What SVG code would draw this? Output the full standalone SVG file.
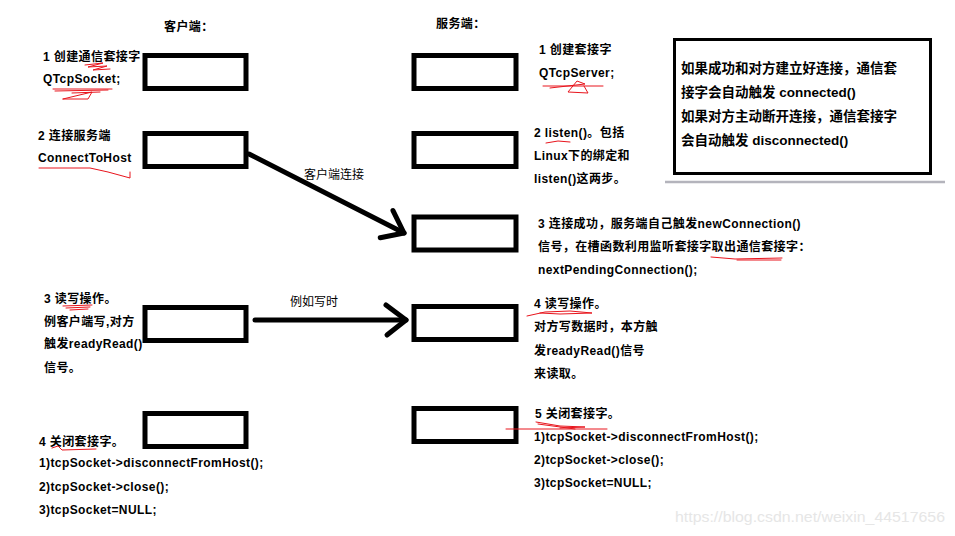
<svg xmlns="http://www.w3.org/2000/svg" width="955" height="536" viewBox="0 0 955 536">
<style>
.box{fill:#fff;stroke:#000;stroke-width:5}
.t{font-family:"Liberation Sans","Noto Sans CJK SC",sans-serif;font-size:12px;font-weight:bold;fill:#000;letter-spacing:0.4px}
.lbl{font-family:"Liberation Sans","Noto Sans CJK SC",sans-serif;font-size:12px;fill:#000}
.note{font-family:"Liberation Sans","Noto Sans CJK SC",sans-serif;font-size:13.5px;font-weight:bold;fill:#000}
.red{fill:none;stroke:#e8141c;stroke-width:1;stroke-linecap:round;stroke-linejoin:round}
.conn{fill:none;stroke:#000;stroke-width:5;stroke-linecap:round}
</style>
<defs>
<marker id="head" markerUnits="userSpaceOnUse" viewBox="-26 -20 30 40" refX="0" refY="0" markerWidth="30" markerHeight="40" orient="auto" overflow="visible">
<path d="M-20,-15 L0,0 L-19,15" fill="none" stroke="#000" stroke-width="5" stroke-linecap="round" stroke-linejoin="round"/>
</marker>
</defs>
<rect width="955" height="536" fill="#fff"/>

<text class="t" x="164" y="31" font-size="13">客户端：</text>
<text class="t" x="436" y="28" font-size="13">服务端：</text>

<g id="c1">
<rect class="box" x="145" y="55.5" width="101" height="33"/>
<text class="t" x="43" y="61">1 创建通信套接字</text>
<text class="t" x="43" y="83">QTcpSocket;</text>
<path class="red" d="M85,65 L103,63 L88,67 L107,66 L93,70 L110,69"/>
<path class="red" d="M53,89 L112,89 M55,91 L108,90 M63,99 L92,92 L88,99 L63,99 M72,93 L100,92"/>
</g>
<g id="c2">
<rect class="box" x="145" y="133.5" width="101" height="33"/>
<text class="t" x="38" y="140">2 连接服务端</text>
<text class="t" x="38" y="162">ConnectToHost</text>
<path class="red" d="M39,168 L90,168 L108,172 L130,178 L130,172"/>
</g>
<g id="c3">
<rect class="box" x="145" y="307.5" width="101" height="33"/>
<text class="t" x="44" y="303">3 读写操作。</text>
<text class="t" x="44" y="326">例客户端写,对方</text>
<text class="t" x="44" y="348">触发readyRead()</text>
<text class="t" x="44" y="372">信号。</text>
<path class="red" d="M63,306 L92,305 M66,308 L90,307 M70,310 L88,309"/>
</g>
<g id="c4">
<rect class="box" x="145" y="413.5" width="101" height="33"/>
<text class="t" x="39" y="446">4 关闭套接字。</text>
<text class="t" x="39" y="467">1)tcpSocket-&gt;disconnectFromHost();</text>
<text class="t" x="39" y="491">2)tcpSocket-&gt;close();</text>
<text class="t" x="39" y="514">3)tcpSocket=NULL;</text>
<path class="red" d="M52,448 L58,446 L62,450 L96,449"/>
</g>

<g id="s1">
<rect class="box" x="414" y="55.5" width="102" height="33"/>
<text class="t" x="539" y="54">1 创建套接字</text>
<text class="t" x="539" y="77">QTcpServer;</text>
<path class="red" d="M543,86 L603,86 M550,88 L585,84 L577,81 L568,92 L588,93 L584,86"/>
</g>
<g id="s2">
<rect class="box" x="414" y="133.5" width="102" height="33"/>
<text class="t" x="534" y="137">2 listen()。包括</text>
<text class="t" x="534" y="160">Linux下的绑定和</text>
<text class="t" x="534" y="183">listen()这两步。</text>
<path class="red" d="M546,143 L558,141 L570,142"/>
</g>
<g id="s3">
<rect class="box" x="414" y="217" width="102" height="33"/>
<text class="t" x="538" y="228">3 连接成功，服务端自己触发newConnection()</text>
<text class="t" x="538" y="251">信号，在槽函数利用监听套接字取出通信套接字：</text>
<text class="t" x="538" y="274">nextPendingConnection();</text>
<path class="red" d="M711,257 L735,259 L782,258 M737,260 L781,260"/>
</g>
<g id="s4">
<rect class="box" x="414" y="306.5" width="102" height="33"/>
<text class="t" x="534" y="308">4 读写操作。</text>
<text class="t" x="534" y="331">对方写数据时，本方触</text>
<text class="t" x="534" y="355">发readyRead()信号</text>
<text class="t" x="534" y="378">来读取。</text>
<path class="red" d="M527,316 L545,312 L570,311 L592,313 L560,314 L540,313"/>
</g>
<g id="s5">
<rect class="box" x="414" y="408.5" width="102" height="33"/>
<text class="t" x="535" y="418">5 关闭套接字。</text>
<text class="t" x="534" y="441">1)tcpSocket-&gt;disconnectFromHost();</text>
<text class="t" x="534" y="464">2)tcpSocket-&gt;close();</text>
<text class="t" x="534" y="487">3)tcpSocket=NULL;</text>
<path class="red" d="M506,429 L607,429 M536,422 L560,426 L585,427 L560,428 M538,424 L575,429"/>
</g>

<g id="note">
<rect x="674.5" y="39.5" width="256" height="134" fill="#fff" stroke="#000" stroke-width="3"/>
<line x1="665" y1="182" x2="945" y2="182" stroke="#b4b4bc" stroke-width="2.5"/>
<text class="note" x="681" y="73">如果成功和对方建立好连接，通信套</text>
<text class="note" x="681" y="97">接字会自动触发 connected()</text>
<text class="note" x="681" y="121">如果对方主动断开连接，通信套接字</text>
<text class="note" x="681" y="145">会自动触发 disconnected()</text>
</g>

<g id="connectors">
<line class="conn" x1="249" y1="154" x2="404" y2="233" marker-end="url(#head)"/>
<text class="lbl" x="304" y="179">客户端连接</text>
<line class="conn" x1="255" y1="320" x2="406" y2="320" marker-end="url(#head)"/>
<text class="lbl" x="290" y="306">例如写时</text>
</g>

<text x="675" y="522" font-family="'Liberation Sans',sans-serif" font-size="15" fill="#e6e6e6" textLength="270" lengthAdjust="spacingAndGlyphs">https://blog.csdn.net/weixin_44517656</text>
</svg>
